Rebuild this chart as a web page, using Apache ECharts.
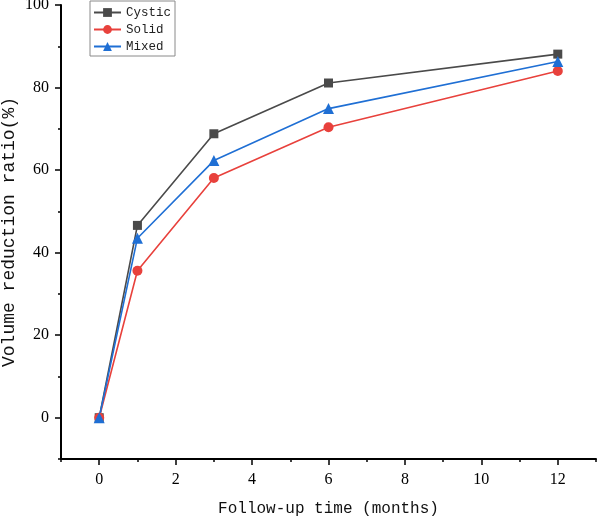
<!DOCTYPE html>
<html>
<head>
<meta charset="utf-8">
<script src="https://cdn.jsdelivr.net/npm/echarts@6/dist/echarts.min.js"></script>
<style>html,body{margin:0;padding:0;background:#fff;}#chart{width:597px;height:519px;}</style>
</head>
<body>
<div id="chart"></div>
<script>
const months = [0, 1, 3, 6, 12];
const cystic = [0, 46.6, 68.8, 81.1, 88.1];
const solid = [0, 35.6, 58.1, 70.4, 84.0];
const mixed = [0, 43.5, 62.3, 74.9, 86.3];
const xMajorTicks = [0, 2, 4, 6, 8, 10, 12];
const xMinorTicks = [-1, 1, 3, 5, 7, 9, 11, 13];
const yMajorTicks = [0, 20, 40, 60, 80, 100];
const yMinorTicks = [-10, 10, 30, 50, 70, 90];

const pair = (xs, ys) => xs.map((x, i) => [x, ys[i]]);
const chart = echarts.init(document.getElementById('chart'));
const black = '#000';
const tickFont = {fontFamily: 'Liberation Serif', fontSize: 16, color: '#000'};

chart.setOption({
  animation: false,
  backgroundColor: '#fff',
  grid: {left: 61, right: 1, top: 5, bottom: 60, containLabel: false, outerBoundsMode: 'none'},
  legend: {
    orient: 'vertical', left: 90, top: 1,
    borderColor: '#8a8a8a', borderWidth: 1, borderRadius: 0,
    padding: [5, 4, 3, 3], itemGap: 4, itemWidth: 27, itemHeight: 11,
    textStyle: {fontFamily: 'Liberation Mono', fontSize: 12.5, color: '#222'},
    data: ['Cystic', 'Solid', 'Mixed']
  },
  xAxis: [
    {
      type: 'value', min: -1, max: 13, position: 'bottom',
      axisLine: {show: true, onZero: false, lineStyle: {color: black, width: 2}},
      axisTick: {show: true, customValues: xMajorTicks, length: 6, lineStyle: {color: black, width: 1.5}},
      axisLabel: Object.assign({customValues: xMajorTicks, margin: 13}, tickFont),
      splitLine: {show: false},
      name: 'Follow-up time (months)', nameLocation: 'middle', nameGap: 42, nameMoveOverlap: false,
      nameTextStyle: {fontFamily: 'Liberation Mono', fontSize: 16, color: '#111'}
    },
    {
      type: 'value', min: -1, max: 13, position: 'bottom',
      axisLine: {show: false, onZero: false},
      axisTick: {show: true, customValues: xMinorTicks, length: 3, lineStyle: {color: black, width: 1.5}},
      axisLabel: {show: false},
      splitLine: {show: false}
    }
  ],
  yAxis: [
    {
      type: 'value', min: -10, max: 100, position: 'left',
      axisLine: {show: true, onZero: false, lineStyle: {color: black, width: 2}},
      axisTick: {show: true, customValues: yMajorTicks, length: 6, lineStyle: {color: black, width: 1.5}},
      axisLabel: Object.assign({customValues: yMajorTicks, margin: 12}, tickFont),
      splitLine: {show: false},
      name: 'Volume reduction ratio(%)', nameLocation: 'middle', nameGap: 43, nameMoveOverlap: false,
      nameTextStyle: {fontFamily: 'Liberation Mono', fontSize: 18, color: '#111'}
    },
    {
      type: 'value', min: -10, max: 100, position: 'left',
      axisLine: {show: false, onZero: false},
      axisTick: {show: true, customValues: yMinorTicks, length: 3, lineStyle: {color: black, width: 1.5}},
      axisLabel: {show: false},
      splitLine: {show: false}
    }
  ],
  series: [
    {
      name: 'Cystic', type: 'line', data: pair(months, cystic),
      symbol: 'rect', symbolSize: 9, color: '#4a4a4a',
      lineStyle: {width: 1.6, color: '#4a4a4a'}, itemStyle: {color: '#4a4a4a'}
    },
    {
      name: 'Solid', type: 'line', data: pair(months, solid),
      symbol: 'circle', symbolSize: 10, color: '#e8413c',
      lineStyle: {width: 1.6, color: '#e8413c'}, itemStyle: {color: '#e8413c'}
    },
    {
      name: 'Mixed', type: 'line', data: pair(months, mixed),
      symbol: 'triangle', symbolSize: 11, color: '#1f6fd4',
      lineStyle: {width: 1.6, color: '#1f6fd4'}, itemStyle: {color: '#1f6fd4'}
    }
  ]
});
</script>
</body>
</html>
